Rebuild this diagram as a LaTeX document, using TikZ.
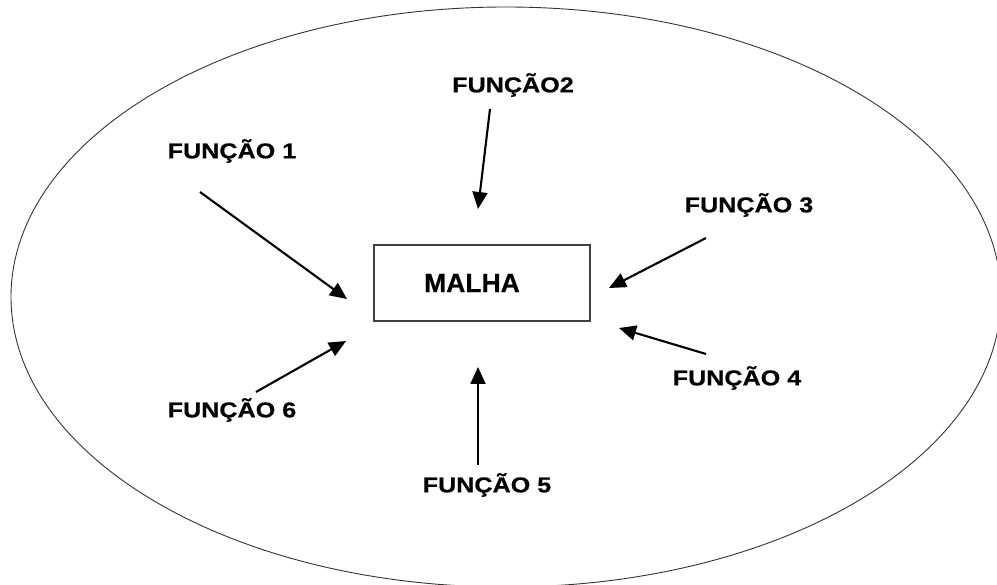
\documentclass[tikz,border=0pt]{standalone}
\usepackage{fontspec}
\usepackage{graphicx}
\setmainfont{Liberation Sans}
\newfontfamily\heavyfont{Liberation Sans Bold}[FakeBold=0.6]
\usetikzlibrary{arrows.meta}
\tikzset{
  lbl/.style={inner sep=0pt, font=\heavyfont\fontsize{21.5}{21.5}\selectfont},
  arr/.style={line width=2.1pt, -{Triangle[length=17pt,width=15pt]}},
  box/.style={draw=black!75, line width=1.3pt, minimum width=216pt, minimum height=76pt, inner sep=0pt},
  rim/.style={draw=black!80, line width=0.9pt}
}
\newcommand{\wide}[1]{\scalebox{1.17}[1]{#1}}
\begin{document}
\begin{tikzpicture}[x=1pt,y=-1pt]
\useasboundingbox (0,0) rectangle (997,585);
\clip (0,0) rectangle (997,585);
\draw[rim] (506,297) ellipse [x radius=495, y radius=290];
\node[box] (m) at (482,283) {};
\node[inner sep=0pt, font=\heavyfont\fontsize{26.5}{26.5}\selectfont] (mt) at (472,283) {MALHA};

\node[lbl] (f1) at (232,151) {\wide{FUNÇÃO 1}};
\node[lbl] (f2) at (513,85) {\wide{FUNÇÃO2}};
\node[lbl] (f3) at (749,205) {\wide{FUNÇÃO 3}};
\node[lbl] (f4) at (737,378) {\wide{FUNÇÃO 4}};
\node[lbl] (f5) at (487,485) {\wide{FUNÇÃO 5}};
\node[lbl] (f6) at (232,410) {\wide{FUNÇÃO 6}};

\coordinate (s1) at (200,192); \coordinate (t1) at (347,299);
\coordinate (s2) at (490,109); \coordinate (t2) at (478,209);
\coordinate (s3) at (706,238); \coordinate (t3) at (609,288);
\coordinate (s4) at (706,354); \coordinate (t4) at (619,328);
\coordinate (s5) at (478,465); \coordinate (t5) at (478,367);
\coordinate (s6) at (256,392); \coordinate (t6) at (346,341);

\draw[arr] (s1) -- (t1);
\draw[arr] (s2) -- (t2);
\draw[arr] (s3) -- (t3);
\draw[arr] (s4) -- (t4);
\draw[arr] (s5) -- (t5);
\draw[arr] (s6) -- (t6);
\end{tikzpicture}
\end{document}
